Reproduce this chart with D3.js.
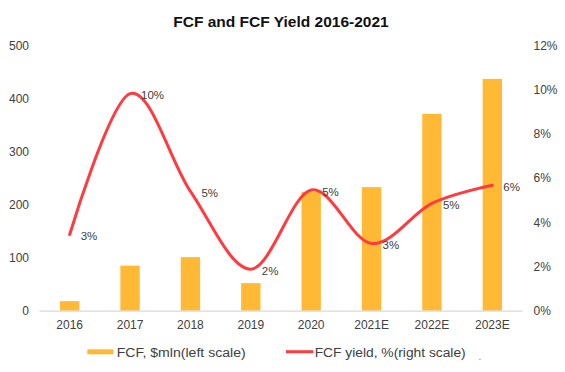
<!DOCTYPE html>
<html>
<head>
<meta charset="utf-8">
<script src="https://cdn.jsdelivr.net/npm/d3@7"></script>
<style>
  html, body { margin: 0; padding: 0; background: #fff; }
  svg { display: block; }
  text { font-family: "Liberation Sans", Arial, sans-serif; }
</style>
</head>
<body>
<svg id="chart" width="565" height="372"></svg>
<script>
// ---- data ----
const categories = ["2016", "2017", "2018", "2019", "2020", "2021E", "2022E", "2023E"];
const fcfValues = [18, 85, 101, 52, 224, 233, 371, 437];          // $mln, left scale
const yieldValues = [3.45, 9.82, 5.40, 1.88, 5.46, 3.04, 4.86, 5.68]; // %, right scale
const leftTicks = [0, 100, 200, 300, 400, 500];
const rightTicks = [0, 2, 4, 6, 8, 10, 12];
const titleText = "FCF and FCF Yield 2016-2021";
const legendLabels = ["FCF, $mln(left scale)", "FCF yield, %(right scale)"];

// ---- layout ----
const W = 565, H = 372;
const plotLeft = 39.5, plotRight = 522.5, plotTop = 45.5, plotBottom = 310.7;
const barColor = "#FFB934";
const lineColor = "#FF3B3F";
const textColor = "#404040";

const svg = d3.select("#chart");

const x = d3.scaleBand().domain(categories).range([plotLeft, plotRight])
  .paddingInner(0.68).paddingOuter(0.34);
const yL = d3.scaleLinear().domain([0, 500]).range([plotBottom, plotTop]);
const yR = d3.scaleLinear().domain([0, 12]).range([plotBottom, plotTop]);
const cx = d => x(d) + x.bandwidth() / 2;

// title
svg.append("text")
  .attr("x", 281).attr("y", 26.7)
  .attr("text-anchor", "middle")
  .attr("font-weight", "bold")
  .attr("font-size", 15.5)
  .attr("fill", "#111")
  .text(titleText);

// bars
svg.append("g").selectAll("rect")
  .data(categories)
  .join("rect")
  .attr("x", d => x(d))
  .attr("width", x.bandwidth())
  .attr("y", (d, i) => yL(fcfValues[i]))
  .attr("height", (d, i) => yL(0) - yL(fcfValues[i]))
  .attr("fill", barColor);

// x axis line
svg.append("line")
  .attr("x1", plotLeft).attr("x2", plotRight)
  .attr("y1", plotBottom + 0.5).attr("y2", plotBottom + 0.5)
  .attr("stroke", "#d9d9d9").attr("stroke-width", 1.2);

// left axis labels
const leftAxis = d3.axisLeft(yL).tickValues(leftTicks).tickSize(0).tickPadding(0).tickFormat(d3.format("d"));
const gL = svg.append("g").attr("transform", "translate(29,0)").call(leftAxis);
gL.select(".domain").remove();
gL.selectAll("text").attr("font-size", 12).attr("fill", textColor)
  .attr("font-family", '"Liberation Sans", Arial, sans-serif');

// right axis labels
const rightAxis = d3.axisRight(yR).tickValues(rightTicks).tickSize(0).tickPadding(0).tickFormat(d => d + "%");
const gR = svg.append("g").attr("transform", "translate(533.5,0)").call(rightAxis);
gR.select(".domain").remove();
gR.selectAll("text").attr("font-size", 12).attr("fill", textColor)
  .attr("font-family", '"Liberation Sans", Arial, sans-serif');

// bottom axis labels
const bottomAxis = d3.axisBottom(x).tickSize(0).tickPadding(0);
const gB = svg.append("g").attr("transform", "translate(0,320.5)").call(bottomAxis);
gB.select(".domain").remove();
gB.selectAll("text").attr("font-size", 12).attr("fill", textColor)
  .attr("font-family", '"Liberation Sans", Arial, sans-serif');

// line (Excel style smoothing ~ cardinal tension 0)
const line = d3.line()
  .x((d, i) => cx(categories[i]))
  .y(d => yR(d))
  .curve(d3.curveCardinal.tension(0));
svg.append("path")
  .datum(yieldValues)
  .attr("d", line)
  .attr("fill", "none")
  .attr("stroke", lineColor)
  .attr("stroke-width", 3)
  .attr("stroke-linecap", "round");

// data labels
svg.append("g").selectAll("text")
  .data(yieldValues)
  .join("text")
  .attr("x", (d, i) => cx(categories[i]) + 11)
  .attr("y", d => yR(d) + 1.5)
  .attr("dominant-baseline", "central")
  .attr("font-size", 11.5)
  .attr("fill", textColor)
  .text(d => Math.round(d) + "%");

// legend
const lg = svg.append("g");
lg.append("rect").attr("x", 87.3).attr("y", 349.3).attr("width", 26).attr("height", 5).attr("fill", barColor);
lg.append("text").attr("x", 116.7).attr("y", 357.4)
  .attr("font-size", 12.5).attr("fill", textColor)
  .attr("textLength", 129).attr("lengthAdjust", "spacingAndGlyphs")
  .text(legendLabels[0]);
lg.append("line").attr("x1", 286).attr("x2", 313.3).attr("y1", 351.7).attr("y2", 351.7)
  .attr("stroke", lineColor).attr("stroke-width", 3);
lg.append("text").attr("x", 314.7).attr("y", 357.4)
  .attr("font-size", 12.5).attr("fill", textColor)
  .attr("textLength", 151).attr("lengthAdjust", "spacingAndGlyphs")
  .text(legendLabels[1]);
lg.append("text").attr("x", 478.5).attr("y", 360)
  .attr("font-size", 10).attr("fill", "#777").text(".");
</script>
</body>
</html>
